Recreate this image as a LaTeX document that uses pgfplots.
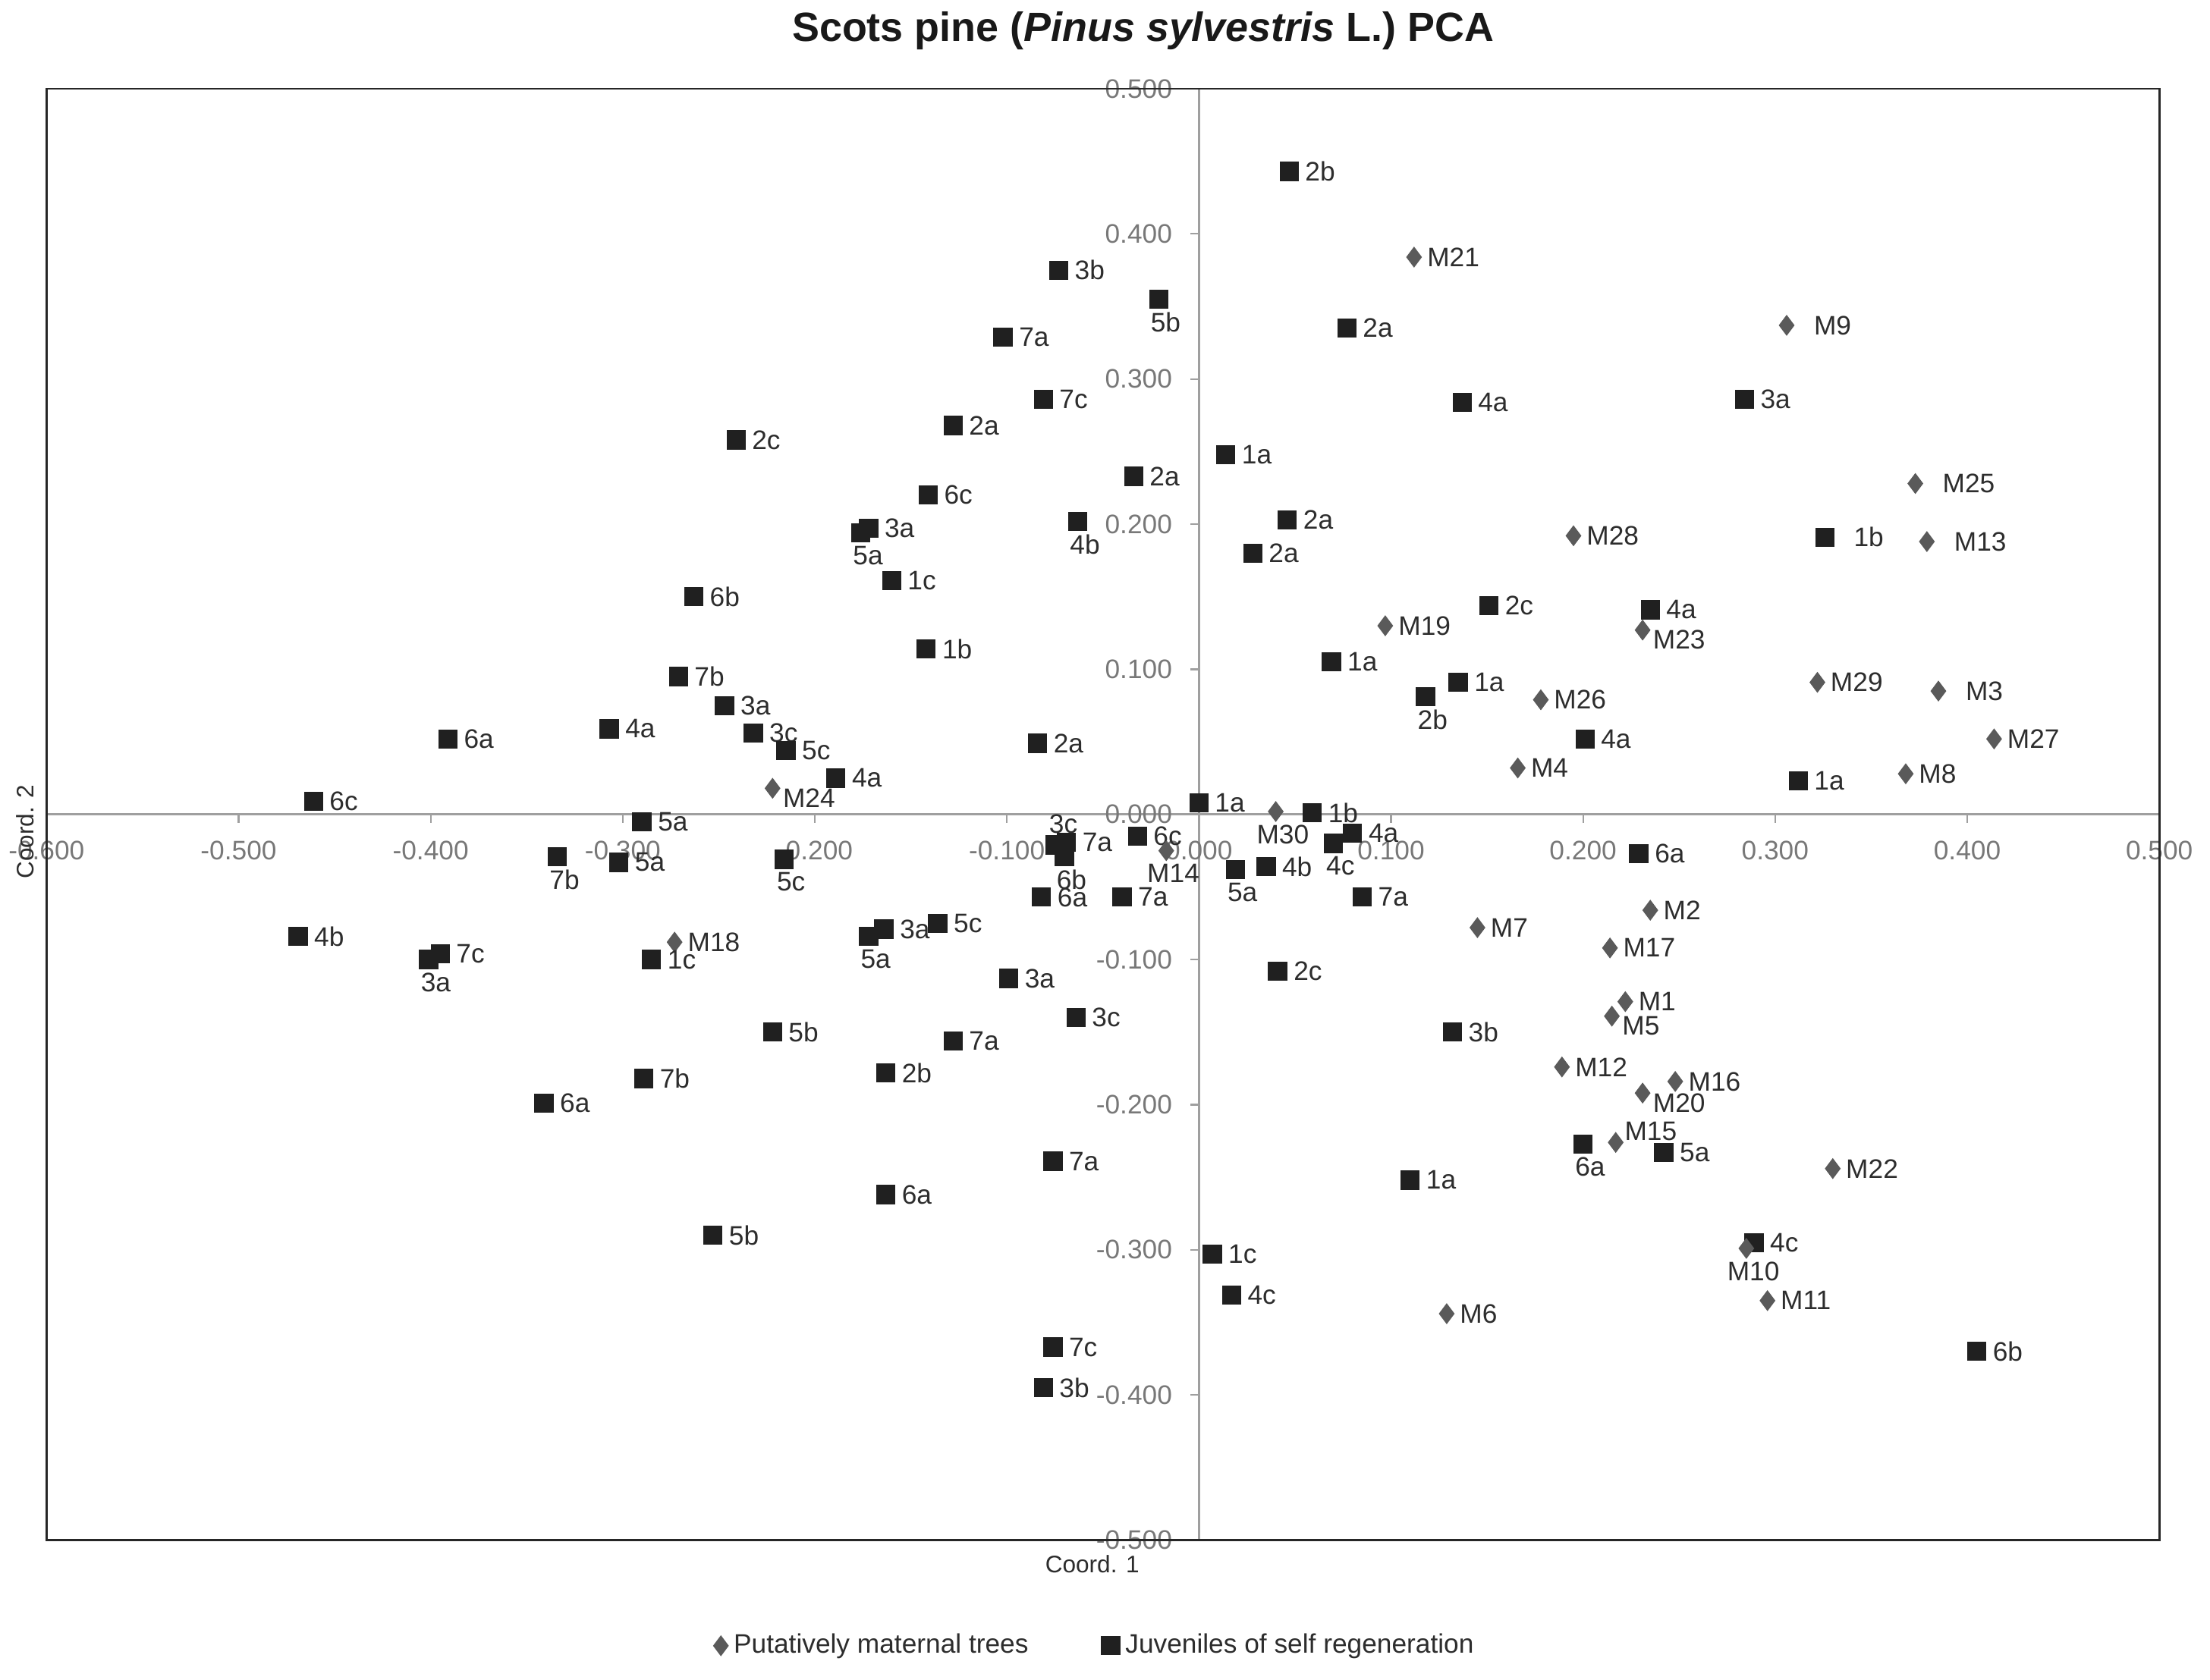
\documentclass[border=0pt]{standalone}
\usepackage{pgfplots}
\pgfplotsset{compat=1.18}
\usepackage{fontspec}
\setmainfont{Liberation Sans}
\definecolor{sqcol}{RGB}{32,32,32}
\definecolor{dmcol}{RGB}{90,90,90}
\definecolor{tickcol}{RGB}{120,120,120}
\definecolor{labcol}{RGB}{45,45,45}

\pgfplotsset{
  lab/.style n args={3}{nodes near coords, point meta=explicit symbolic,
    every node near coord/.append style={anchor=#1, xshift=#2, yshift=#3, inner sep=0pt,
      font=\fontsize{9.5}{11}\selectfont, text=labcol}},
  sq/.style={only marks, mark=square*, mark size=3.2pt, color=sqcol},
  dm/.style={only marks, mark=diamond*, mark size=3.4pt, color=dmcol},
}

\begin{document}
\begin{tikzpicture}
\begin{axis}[
  scale only axis,
  width=749.5pt, height=515pt,
  xmin=-0.6, xmax=0.5, ymin=-0.5, ymax=0.5,
  axis lines=middle,
  axis line style={-, color=gray!75, line width=0.9pt},
  clip=false,
  hide obscured x ticks=false,
  hide obscured y ticks=false,
  xtick={-0.6,-0.5,-0.4,-0.3,-0.2,-0.1,0,0.1,0.2,0.3,0.4,0.5},
  ytick={-0.5,-0.4,-0.3,-0.2,-0.1,0,0.1,0.2,0.3,0.4,0.5},
  /pgf/number format/assume math mode=true,
  /pgf/number format/.cd, fixed, fixed zerofill, precision=3, /pgfplots/.cd,
  tick label style={font=\fontsize{9.5}{11}\selectfont, text=tickcol},
  tick style={color=gray!75, line width=0.6pt},
  tick align=outside,
  major tick length=3pt,
  xticklabel style={anchor=north, yshift=-3pt},
  yticklabel style={anchor=east, xshift=-3pt},
  xlabel={Coord. 1},
  ylabel={Coord. 2},
  xlabel style={at={(axis description cs:0.495,-0.0165)}, anchor=center, font=\fontsize{8.5}{10}\selectfont, text=labcol},
  ylabel style={at={(axis description cs:-0.010,0.488)}, anchor=center, rotate=90, font=\fontsize{8.5}{10}\selectfont, text=labcol},
  legend style={at={(0.497,-0.0728)}, anchor=center, draw=none, fill=none,
    font=\fontsize{9.5}{11}\selectfont, text=labcol,
    /tikz/every even column/.append style={column sep=24pt}},
  legend columns=2,
  legend cell align=left,
]
% ---- maternal trees, label right
\addplot[dm, lab={west}{4.5pt}{0pt}] table[meta=lab] {
x y lab
0.112 0.384 M21
0.195 0.192 M28
0.097 0.130 M19
0.322 0.091 M29
0.178 0.079 M26
0.414 0.052 M27
0.166 0.032 M4
0.368 0.028 M8
-0.273 -0.088 M18
0.145 -0.078 M7
0.235 -0.066 M2
0.214 -0.092 M17
0.222 -0.129 M1
0.189 -0.174 M12
0.248 -0.184 M16
0.330 -0.244 M22
0.296 -0.335 M11
0.129 -0.344 M6
};
\addlegendentry{Putatively maternal trees}
% ---- juveniles, label right
\addplot[sq, lab={west}{5.5pt}{0pt}] table[meta=lab] {
x y lab
0.047 0.443 2b
-0.073 0.375 3b
-0.102 0.329 7a
0.077 0.335 2a
-0.081 0.286 7c
0.137 0.284 4a
-0.241 0.258 2c
-0.128 0.268 2a
0.014 0.248 1a
-0.034 0.233 2a
-0.141 0.220 6c
-0.172 0.197 3a
0.046 0.203 2a
-0.160 0.161 1c
0.028 0.180 2a
-0.263 0.150 6b
0.151 0.144 2c
0.235 0.141 4a
-0.142 0.114 1b
0.069 0.105 1a
-0.271 0.095 7b
0.135 0.091 1a
-0.247 0.075 3a
-0.391 0.052 6a
-0.307 0.059 4a
-0.232 0.056 3c
-0.215 0.044 5c
-0.084 0.049 2a
0.201 0.052 4a
-0.189 0.025 4a
0.312 0.023 1a
-0.461 0.009 6c
0.000 0.008 1a
0.059 0.001 1b
-0.290 -0.005 5a
-0.069 -0.019 7a
-0.032 -0.015 6c
0.035 -0.036 4b
0.080 -0.013 4a
-0.302 -0.033 5a
0.229 -0.027 6a
-0.082 -0.057 6a
-0.040 -0.057 7a
0.085 -0.057 7a
-0.136 -0.075 5c
-0.164 -0.079 3a
-0.469 -0.084 4b
-0.395 -0.096 7c
-0.285 -0.100 1c
0.041 -0.108 2c
-0.099 -0.113 3a
-0.222 -0.150 5b
0.132 -0.150 3b
-0.064 -0.140 3c
-0.128 -0.156 7a
-0.289 -0.182 7b
-0.163 -0.178 2b
-0.341 -0.199 6a
0.242 -0.233 5a
-0.076 -0.239 7a
0.110 -0.252 1a
-0.163 -0.262 6a
-0.253 -0.290 5b
0.289 -0.295 4c
0.007 -0.303 1c
0.017 -0.331 4c
-0.076 -0.367 7c
-0.081 -0.395 3b
0.405 -0.370 6b
0.284 0.286 3a
};
\addlegendentry{Juveniles of self regeneration}
% ---- maternal trees, label right with gap
\addplot[dm, forget plot, lab={west}{9.5pt}{0pt}] table[meta=lab] {
x y lab
0.306 0.337 M9
0.373 0.228 M25
0.379 0.188 M13
0.385 0.085 M3
};
% ---- maternal trees, label right and lower
\addplot[dm, forget plot, lab={west}{3.5pt}{-3.5pt}] table[meta=lab] {
x y lab
0.231 0.127 M23
-0.222 0.018 M24
0.215 -0.139 M5
0.231 -0.192 M20
};
% ---- maternal trees, label right and higher
\addplot[dm, forget plot, lab={west}{3pt}{4pt}] table[meta=lab] {
x y lab
0.217 -0.226 M15
};
% ---- maternal trees, label below
\addplot[dm, forget plot, lab={north}{2.5pt}{-4.5pt}] table[meta=lab] {
x y lab
0.040 0.002 M30
-0.017 -0.025 M14
0.285 -0.299 M10
};
% ---- juveniles, label below
\addplot[sq, forget plot, lab={north}{2.5pt}{-4.5pt}] table[meta=lab] {
x y lab
-0.021 0.355 5b
-0.176 0.194 5a
-0.063 0.202 4b
0.118 0.081 2b
-0.070 -0.029 6b
0.019 -0.038 5a
0.070 -0.020 4c
-0.334 -0.029 7b
-0.216 -0.031 5c
-0.172 -0.084 5a
-0.401 -0.100 3a
0.200 -0.227 6a
};
% ---- juveniles, label above
\addplot[sq, forget plot, lab={south}{3pt}{4pt}] table[meta=lab] {
x y lab
-0.075 -0.021 3c
};
% ---- juveniles, label right with gap
\addplot[sq, forget plot, lab={west}{10pt}{0pt}] table[meta=lab] {
x y lab
0.326 0.191 1b
};
\end{axis}
\draw[black!85, line width=0.8pt] (current axis.south west) rectangle (current axis.north east);
\node[anchor=center, font=\fontsize{14.5}{17}\selectfont\bfseries, text=black!90]
  at ([xshift=14.25pt, yshift=20.5pt]current axis.north) {Scots pine (\textit{Pinus sylvestris} L.) PCA};
\pgfresetboundingbox
\path[use as bounding box] ([xshift=-16.5pt,yshift=-49.5pt]current axis.south west) rectangle ([xshift=18pt,yshift=31.5pt]current axis.north east);
\end{tikzpicture}
\end{document}
